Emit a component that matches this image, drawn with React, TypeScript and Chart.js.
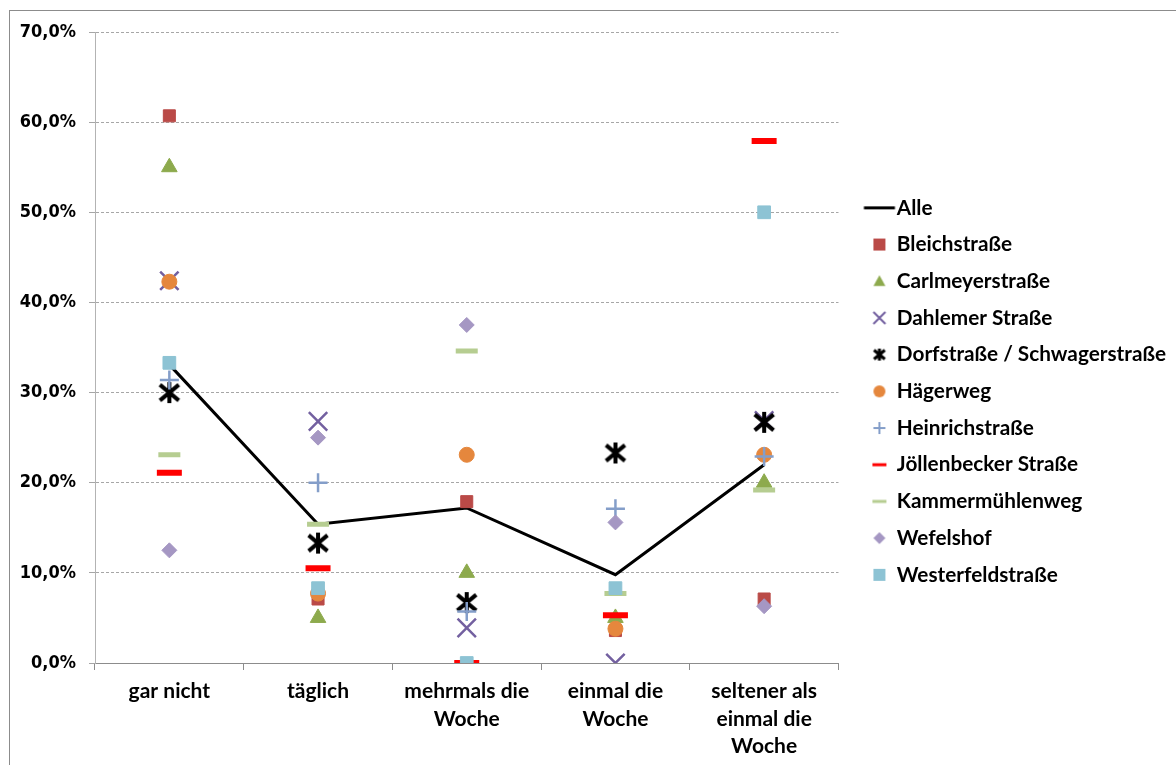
import { useEffect, useRef } from 'react';
import { Chart, registerables } from 'chart.js';

Chart.register(...registerables);

// Kategorien der x-Achse (mehrzeilige Beschriftungen)
const categories: string[][] = [
  ['gar nicht'],
  ['täglich'],
  ['mehrmals die', 'Woche'],
  ['einmal die', 'Woche'],
  ['seltener als', 'einmal die', 'Woche'],
];

// Skala der y-Achse in Prozent
const yMin = 0;
const yMax = 70;
const yStep = 10;

// Anteile je Straße in Prozent
const alle = [33.1, 15.4, 17.2, 9.8, 22.0];
const bleichstrasse = [60.7, 7.1, 17.9, 3.6, 7.1];
const carlmeyerstrasse = [55.0, 5.0, 10.0, 5.0, 20.0];
const dahlemerStrasse = [42.4, 26.8, 3.9, 0.0, 26.9];
const dorfstrasse = [30.0, 13.3, 6.7, 23.3, 26.7];
const haegerweg = [42.3, 7.7, 23.1, 3.8, 23.1];
const heinrichstrasse = [31.4, 20.0, 5.7, 17.1, 22.9];
const joellenbeckerStrasse = [21.1, 10.5, 0.0, 5.3, 57.9];
const kammermuehlenweg = [23.1, 15.4, 34.6, 7.7, 19.2];
const wefelshof = [12.5, 25.0, 37.5, 15.6, 6.3];
const westerfeldstrasse = [33.3, 8.3, 0.0, 8.3, 50.0];

const seriesLabels = [
  'Alle',
  'Bleichstraße',
  'Carlmeyerstraße',
  'Dahlemer Straße',
  'Dorfstraße / Schwagerstraße',
  'Hägerweg',
  'Heinrichstraße',
  'Jöllenbecker Straße',
  'Kammermühlenweg',
  'Wefelshof',
  'Westerfeldstraße',
];
const seriesValues = [
  alle,
  bleichstrasse,
  carlmeyerstrasse,
  dahlemerStrasse,
  dorfstrasse,
  haegerweg,
  heinrichstrasse,
  joellenbeckerStrasse,
  kammermuehlenweg,
  wefelshof,
  westerfeldstrasse,
];
const seriesColors = [
  '#000000',
  '#BA4A47',
  '#8DAA4D',
  '#7360A0',
  '#000000',
  '#E5873D',
  '#849EC9',
  '#FF0000',
  '#B6CD91',
  '#A597C3',
  '#8DC3D4',
];
type MarkerKind = 'line' | 'square' | 'triangle' | 'x' | 'star' | 'circle' | 'plus' | 'dash' | 'diamond';
const seriesMarkers: MarkerKind[] = [
  'line',
  'square',
  'triangle',
  'x',
  'star',
  'circle',
  'plus',
  'dash',
  'dash',
  'diamond',
  'square',
];

// Zeichnet ein Markersymbol auf eine eigene kleine Leinwand
function makeMarker(kind: MarkerKind, color: string, size: number, boxW: number, offsetX: number): HTMLCanvasElement {
  const c = document.createElement('canvas');
  c.width = boxW;
  c.height = Math.max(size + 6, 8);
  const g = c.getContext('2d')!;
  const cx = boxW / 2 + offsetX;
  const cy = c.height / 2;
  const h = size / 2;
  g.fillStyle = color;
  g.strokeStyle = color;
  switch (kind) {
    case 'line':
      g.lineWidth = 3;
      g.beginPath();
      g.moveTo(cx - h, cy);
      g.lineTo(cx + h, cy);
      g.stroke();
      break;
    case 'square':
      g.fillRect(cx - h, cy - h, size, size);
      break;
    case 'triangle':
      g.beginPath();
      g.moveTo(cx, cy - h);
      g.lineTo(cx + h, cy + h * 0.8);
      g.lineTo(cx - h, cy + h * 0.8);
      g.closePath();
      g.fill();
      break;
    case 'x':
      g.lineWidth = 2;
      g.beginPath();
      g.moveTo(cx - h, cy - h);
      g.lineTo(cx + h, cy + h);
      g.moveTo(cx + h, cy - h);
      g.lineTo(cx - h, cy + h);
      g.stroke();
      break;
    case 'star':
      g.lineWidth = size > 14 ? 4 : 3;
      g.beginPath();
      g.moveTo(cx - h * 0.9, cy - h * 0.75);
      g.lineTo(cx + h * 0.9, cy + h * 0.75);
      g.moveTo(cx + h * 0.9, cy - h * 0.75);
      g.lineTo(cx - h * 0.9, cy + h * 0.75);
      g.moveTo(cx, cy - h);
      g.lineTo(cx, cy + h);
      g.stroke();
      break;
    case 'circle':
      g.beginPath();
      g.arc(cx, cy, h, 0, Math.PI * 2);
      g.fill();
      break;
    case 'plus':
      g.lineWidth = 2;
      g.beginPath();
      g.moveTo(cx - h, cy);
      g.lineTo(cx + h, cy);
      g.moveTo(cx, cy - h);
      g.lineTo(cx, cy + h);
      g.stroke();
      break;
    case 'dash':
      g.fillRect(cx - h, cy - 1.5, size, 3);
      break;
    case 'diamond':
      g.beginPath();
      g.moveTo(cx, cy - h);
      g.lineTo(cx + h, cy);
      g.lineTo(cx, cy + h);
      g.lineTo(cx - h, cy);
      g.closePath();
      g.fill();
      break;
  }
  return c;
}

function pct(v: number): string {
  return v.toFixed(1).replace('.', ',') + '%';
}

export default function App() {
  const canvasRef = useRef<HTMLCanvasElement | null>(null);

  useEffect(() => {
    const canvas = canvasRef.current;
    if (!canvas) return;

    const legendBoxW = 32;
    const legendOffset = 9;
    const legendMarkers = seriesMarkers.map((m, i) =>
      makeMarker(m, seriesColors[i], m === 'line' ? 31 : m === 'dash' ? 14 : 12, legendBoxW + 30, legendOffset)
    );
    const starPoint = makeMarker('star', '#000000', 21, 26, 0);

    const pointStyles: Record<MarkerKind, any> = {
      line: 'line',
      square: 'rect',
      triangle: 'triangle',
      x: 'crossRot',
      star: starPoint,
      circle: 'circle',
      plus: 'cross',
      dash: 'line',
      diamond: 'rectRot',
    };
    const pointRadius = [0, 8.5, 9, 13, 10, 7.5, 9.5, 12.5, 11, 7.5, 9];
    const pointBorder = [0, 1, 1, 2.5, 0, 1, 2.5, 6, 5, 1, 1];

    const datasets = seriesLabels.map((label, i) => ({
      label,
      data: seriesValues[i],
      showLine: i === 0,
      borderColor: seriesColors[i],
      backgroundColor: seriesColors[i],
      borderWidth: 3,
      pointStyle: pointStyles[seriesMarkers[i]],
      pointRadius: pointRadius[i],
      pointHoverRadius: pointRadius[i],
      pointBorderWidth: pointBorder[i],
      pointBorderColor: seriesColors[i],
      pointBackgroundColor: seriesColors[i],
      order: seriesLabels.length - i,
    }));

    const chart = new Chart(canvas, {
      type: 'line',
      data: { labels: categories, datasets },
      options: {
        animation: false,
        responsive: false,
        events: [],
        layout: { padding: { left: 0, top: 32, right: 0, bottom: 0 } },
        plugins: {
          tooltip: { enabled: false },
          legend: {
            position: 'right',
            align: 'start',
            maxWidth: 420,
            // leerer Titel als Abstand oberhalb der Legendeneinträge
            title: {
              display: true,
              text: '',
              font: { size: 10, lineHeight: 1 },
              padding: { top: 0, bottom: 139.5 },
            },
            labels: {
              usePointStyle: true,
              pointStyleWidth: legendBoxW,
              padding: 15.95,
              color: '#000000',
              font: { family: 'Lato', size: 20.75, weight: 'bold' },
              generateLabels: (ch: any) =>
                ch.data.datasets.map((ds: any, i: number) => ({
                  text: ds.label,
                  pointStyle: legendMarkers[i],
                  fillStyle: 'rgba(0,0,0,0)',
                  strokeStyle: 'rgba(0,0,0,0)',
                  lineWidth: 0,
                  hidden: false,
                  datasetIndex: i,
                  fontColor: '#000000',
                })),
            },
          },
        },
        scales: {
          x: {
            type: 'category',
            offset: true,
            afterFit: (s: any) => {
              s.height = 102;
            },
            grid: {
              offset: true,
              drawOnChartArea: false,
              drawTicks: true,
              tickLength: 7,
              color: '#8c8c8c',
            },
            border: { display: true, color: '#8c8c8c', width: 1 },
            ticks: {
              color: '#000000',
              padding: 8,
              maxRotation: 0,
              autoSkip: false,
              font: { family: 'Lato', size: 21, weight: 'bold', lineHeight: 1.3 },
            },
          },
          y: {
            min: yMin,
            max: yMax,
            afterFit: (s: any) => {
              s.width = 95;
            },
            grid: {
              color: '#a6a6a6',
              lineWidth: 1,
              tickLength: 6,
            },
            border: { display: true, color: '#b3b3b3', width: 1, dash: [3, 2] },
            ticks: {
              stepSize: yStep,
              padding: 13,
              color: '#000000',
              font: { family: 'DejaVu Sans Condensed', size: 18, weight: 'bold' },
              callback: (v: any) => pct(Number(v)),
            },
          },
        },
      },
    });

    return () => chart.destroy();
  }, []);

  return (
    <div
      style={{
        position: 'fixed',
        left: 0,
        top: 0,
        width: 1176,
        height: 765,
        background: '#ffffff',
        overflow: 'hidden',
      }}
    >
      <div
        style={{
          position: 'absolute',
          left: 9,
          top: 10,
          width: 1300,
          height: 900,
          border: '1px solid #8c8c8c',
          boxSizing: 'border-box',
        }}
      />
      <canvas
        ref={canvasRef}
        width={1176}
        height={765}
        style={{ position: 'absolute', left: 0, top: 0, width: 1176, height: 765 }}
      />
    </div>
  );
}
